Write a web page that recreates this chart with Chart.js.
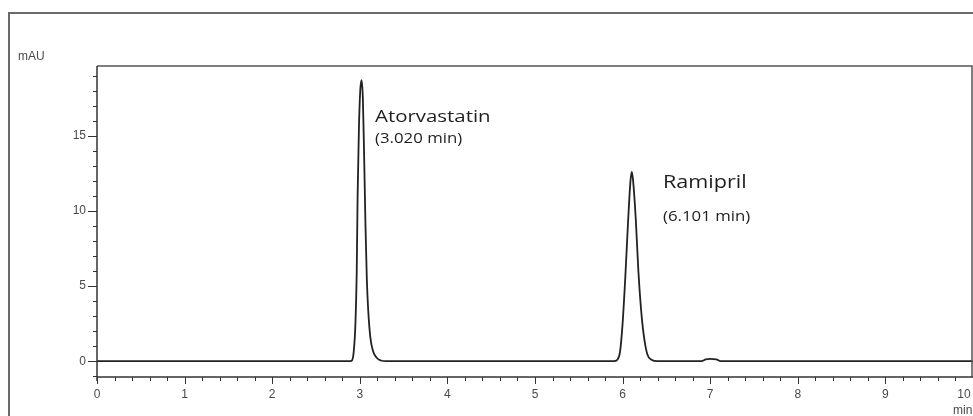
<!DOCTYPE html>
<html>
<head>
<meta charset="utf-8">
<title>Chromatogram - Atorvastatin / Ramipril</title>
<script src="https://cdn.jsdelivr.net/npm/chart.js@4.4.1/dist/chart.umd.min.js"></script>
<style>
    html, body { margin: 0; padding: 0; background: #fff; }
    #wrap { width: 973px; height: 416px; position: relative; }
</style>
</head>
<body>
<div id="wrap"><canvas id="chromChart" width="973" height="416"></canvas></div>
<script>
// Retention time (min) and detector signal (mAU)
const retentionTimes = [
    0, 2.88, 2.91, 2.93, 2.95, 2.965, 2.975, 2.99, 3.005, 3.02, 3.035, 3.05, 3.065,
    3.08, 3.095, 3.12, 3.15, 3.19, 3.24, 3.30,
    5.90, 5.94, 5.97, 6.00, 6.03, 6.06, 6.09, 6.105, 6.12, 6.15, 6.18, 6.21, 6.24,
    6.28, 6.33, 6.40,
    6.90, 6.95, 7.00, 7.07, 7.12, 10
];
const absorbance = [
    0, 0, 0.05, 0.6, 2.5, 6, 11, 15.5, 18, 18.7, 17.5, 13.5, 9,
    5.5, 3.5, 1.6, 0.7, 0.25, 0.05, 0,
    0, 0.1, 0.6, 2.5, 5.5, 9, 12, 12.6, 12, 9.5, 6, 3.5, 1.8,
    0.5, 0.1, 0,
    0, 0.12, 0.15, 0.12, 0, 0
];

// Axis ticks
const xTickValues = [0, 1, 2, 3, 4, 5, 6, 7, 8, 9, 10];
const yTickValues = [0, 5, 10, 15];
const xMinorStep = 0.2;
const yMinorStep = 1;

// Peak annotations
const peakNames = ['Atorvastatin', 'Ramipril'];
const peakTimes = ['(3.020 min)', '(6.101 min)'];

const tickFont = '12px "Liberation Sans", Arial, sans-serif';
const labelFont = '"Open Sans", "DejaVu Sans", sans-serif';

// text in the source image is a bit stretched sideways
function drawWideText(c, text, x, y, size, stretch) {
    c.save();
    c.font = size + 'px ' + labelFont;
    c.translate(x, y);
    c.scale(stretch, 1);
    c.fillText(text, 0, 0);
    c.restore();
}

/**
 * Draws outer frame, plot frame, ticks, tick labels and peak labels
 */
const chromDecor = {
    id: 'chromDecor',
    beforeDraw(chart) {
        const c = chart.ctx;
        c.save();
        c.fillStyle = '#fff';
        c.fillRect(0, 0, chart.width, chart.height);
        // outer frame
        c.strokeStyle = '#6a6a6a';
        c.lineWidth = 2;
        c.beginPath();
        c.moveTo(9, chart.height);
        c.lineTo(9, 13);
        c.lineTo(chart.width, 13);
        c.stroke();
        c.restore();
    },
    afterDraw(chart) {
        const c = chart.ctx;
        const area = chart.chartArea;
        const xs = chart.scales.x;
        const ys = chart.scales.y;
        c.save();

        // plot frame (top + right)
        c.strokeStyle = '#555';
        c.lineWidth = 1.5;
        c.beginPath();
        c.moveTo(area.left, area.top);
        c.lineTo(area.right - 1, area.top);
        c.lineTo(area.right - 1, area.bottom);
        c.stroke();

        // axes
        c.strokeStyle = '#333';
        c.lineWidth = 1.5;
        c.beginPath();
        c.moveTo(area.left, area.top);
        c.lineTo(area.left, area.bottom + 4);
        c.moveTo(area.left, area.bottom);
        c.lineTo(area.right, area.bottom);
        c.stroke();

        // x ticks
        c.lineWidth = 1;
        c.beginPath();
        for (let v = 0; v <= 10.001; v += xMinorStep) {
            const px = Math.round(xs.getPixelForValue(v)) + 0.5;
            const isMajor = Math.abs(v - Math.round(v)) < 0.01;
            c.moveTo(px, area.bottom);
            c.lineTo(px, area.bottom + (isMajor ? 7 : 4));
        }
        // y ticks
        for (let v = -1; v <= 19.001; v += yMinorStep) {
            const py = Math.round(ys.getPixelForValue(v)) + 0.5;
            const isMajor = v % 5 === 0;
            c.moveTo(area.left, py);
            c.lineTo(area.left - (isMajor ? 9 : 4), py);
        }
        c.stroke();

        // tick labels
        c.fillStyle = '#4a4a4a';
        c.font = tickFont;
        c.textBaseline = 'middle';
        c.textAlign = 'center';
        xTickValues.forEach(v => {
            let px = xs.getPixelForValue(v);
            if (px + 9 > chart.width) px = chart.width - 9;
            c.fillText(String(v), px, area.bottom + 18);
        });
        c.textAlign = 'right';
        yTickValues.forEach(v => {
            c.fillText(String(v), area.left - 11, ys.getPixelForValue(v));
        });
        c.textAlign = 'left';
        c.fillText('mAU', 18, 57);
        c.fillText('min', 953, 411);

        // peak labels
        c.fillStyle = '#1e1e1e';
        c.textBaseline = 'alphabetic';
        drawWideText(c, peakNames[0], 375, 122, 17, 1.2);
        drawWideText(c, peakTimes[0], 375, 143, 14, 1.2);
        drawWideText(c, peakNames[1], 663, 188, 18, 1.2);
        drawWideText(c, peakTimes[1], 663, 221, 14, 1.2);

        c.restore();
    }
};

function initializeChromatogram() {
    const ctx = document.getElementById('chromChart');
    if (!ctx) return;

    const points = retentionTimes.map((t, i) => ({ x: t, y: absorbance[i] }));

    new Chart(ctx.getContext('2d'), {
        type: 'line',
        data: {
            datasets: [{
                data: points,
                borderColor: '#222',
                borderWidth: 1.8,
                pointRadius: 0,
                fill: false,
                cubicInterpolationMode: 'monotone'
            }]
        },
        options: {
            responsive: false,
            animation: false,
            layout: {
                padding: { top: 66, right: 0, left: 0, bottom: 0 }
            },
            plugins: {
                legend: { display: false },
                tooltip: { enabled: false }
            },
            scales: {
                x: {
                    type: 'linear',
                    min: 0,
                    max: 10,
                    grid: { display: false },
                    border: { display: false },
                    ticks: { display: false },
                    afterFit: function(scale) { scale.height = 39; }
                },
                y: {
                    min: -1.05,
                    max: 19.65,
                    grid: { display: false },
                    border: { display: false },
                    ticks: { display: false },
                    afterFit: function(scale) { scale.width = 97; }
                }
            }
        },
        plugins: [chromDecor]
    });
}

document.addEventListener('DOMContentLoaded', initializeChromatogram);
</script>
</body>
</html>
